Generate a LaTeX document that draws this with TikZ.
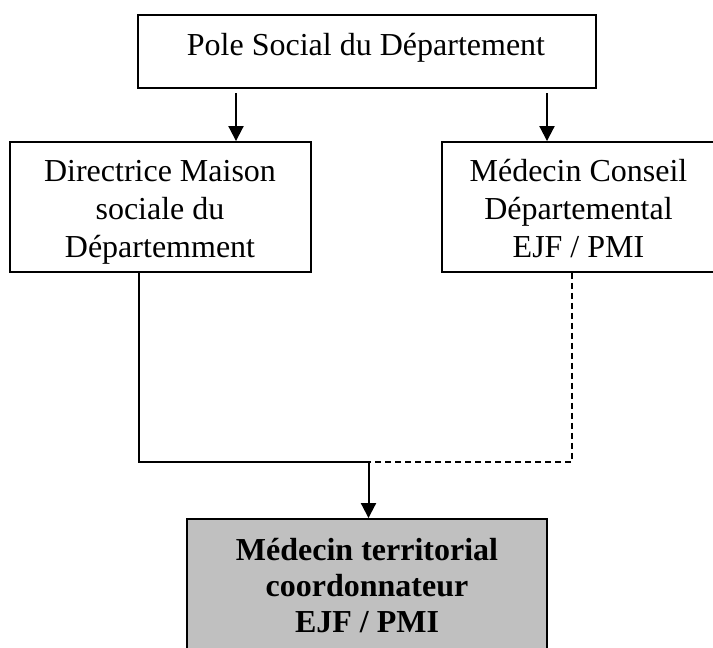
\documentclass[tikz,border=0pt]{standalone}
\usepackage{fontspec}
\setmainfont{Liberation Serif}
\usetikzlibrary{arrows.meta}
\begin{document}
\begin{tikzpicture}[x=1pt,y=-1pt,
  box/.style={draw,line width=1.9pt,inner sep=0pt},
  txt/.style={align=center,inner sep=0pt,font=\fontsize{32}{38}\selectfont},
  btxt/.style={align=center,inner sep=0pt,font=\fontsize{32}{36}\selectfont\bfseries},
  conn/.style={line width=1.5pt},
  arr/.style={line width=2pt,-{Triangle[width=15pt,length=15pt]}}]
\useasboundingbox (0,0) rectangle (713,648);
% boxes
\node[box,minimum width=458pt,minimum height=73pt] (top) at (367,51.5) {};
\node[box,minimum width=301pt,minimum height=130pt] (left) at (160.5,207) {};
\node[box,minimum width=274pt,minimum height=130pt] (right) at (579,207) {};
\node[box,fill={rgb,255:red,192;green,192;blue,192},minimum width=360pt,minimum height=140pt] (bottom) at (367,589) {};
% texts
\node[txt] (toptext) at (366,48) {Pole Social du Département};
\node[txt] (lefttext) at (160,212.5) {Directrice Maison\\sociale du\\Départemment};
\node[txt] (righttext) at (578.5,208.5) {Médecin Conseil\\Départemental\\EJF / PMI};
\node[btxt] (bottomtext) at (367,586) {Médecin territorial\\coordonnateur\\EJF / PMI};
% connectors
\coordinate (la) at (236,93);
\coordinate (ra) at (547,93);
\coordinate (lj) at (139,462);
\coordinate (jn) at (368.5,462);
\coordinate (rj) at (572,462);
\draw[arr] (la) -- (left.north -| la);
\draw[arr] (ra) -- (right.north -| ra);
\draw[conn] (left.south -| lj) -- (lj) -- (jn);
\draw[conn,dash pattern=on 6pt off 4pt] (right.south -| rj) -- (rj) -- (jn);
\draw[arr] (jn) -- (bottom.north -| jn);
\end{tikzpicture}
\end{document}
